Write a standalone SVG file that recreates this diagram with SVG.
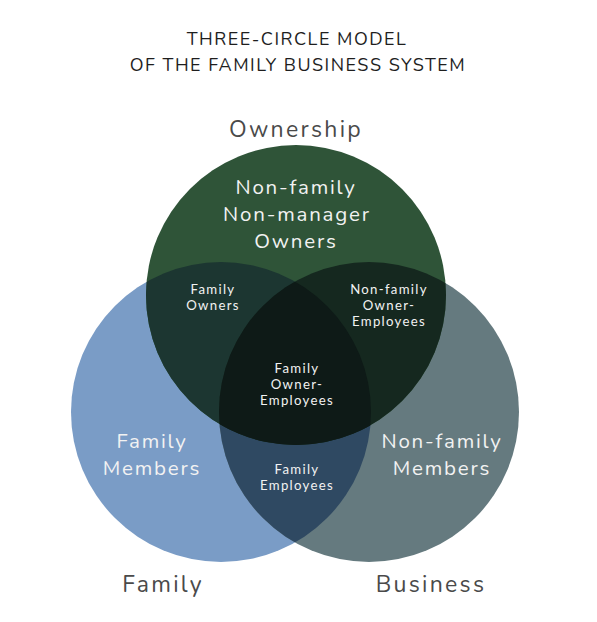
<svg xmlns="http://www.w3.org/2000/svg" width="597" height="622" viewBox="0 0 597 622">
<style>
text{font-family:"Nunito","Lato","Noto Sans",sans-serif;text-anchor:middle}
.title{font-size:18px;fill:#1e1e1e;letter-spacing:1.5px}
.cap{font-size:23px;fill:#4a4a4a;letter-spacing:2.3px}
.big{font-size:20.5px;fill:#f2f2f2;letter-spacing:1.8px}
.sm{font-family:"Lato","Noto Sans",sans-serif;font-size:13.2px;fill:#f2f2f2;letter-spacing:1.3px}
</style>
<defs>
<clipPath id="cF"><circle cx="221" cy="412" r="150"/></clipPath>
<clipPath id="cB"><circle cx="369" cy="412" r="150"/></clipPath>
</defs>
<rect width="597" height="622" fill="#ffffff"/>
<g id="title">
<text class="title" x="297" y="45">THREE-CIRCLE MODEL</text>
<text class="title" x="298" y="71">OF THE FAMILY BUSINESS SYSTEM</text>
</g>
<g id="family">
<circle cx="221" cy="412" r="150" fill="#7a9cc6"/>
</g>
<g id="business">
<circle cx="369" cy="412" r="150" fill="#657a7f"/>
</g>
<g id="ownership">
<circle cx="296" cy="295" r="150" fill="#2f5438"/>
</g>
<g id="overlaps">
<g clip-path="url(#cF)"><circle cx="369" cy="412" r="150" fill="#2f4962"/></g>
<g clip-path="url(#cF)"><circle cx="296" cy="295" r="150" fill="#1c3631"/></g>
<g clip-path="url(#cB)"><circle cx="296" cy="295" r="150" fill="#15281f"/></g>
<g clip-path="url(#cF)"><g clip-path="url(#cB)"><circle cx="296" cy="295" r="150" fill="#0e1a17"/></g></g>
</g>
<g id="labels">
<text class="cap" x="296" y="137">Ownership</text>
<text class="cap" x="163" y="592">Family</text>
<text class="cap" x="431" y="592">Business</text>
<text class="big"><tspan x="296" y="194">Non-family</tspan><tspan x="297" y="221">Non-manager</tspan><tspan x="296" y="248">Owners</tspan></text>
<text class="sm"><tspan x="213" y="294">Family</tspan><tspan x="213" y="310.2">Owners</tspan></text>
<text class="sm"><tspan x="389" y="294">Non-family</tspan><tspan x="389" y="310.2">Owner-</tspan><tspan x="389" y="326.4">Employees</tspan></text>
<text class="sm"><tspan x="297" y="373">Family</tspan><tspan x="297" y="389.2">Owner-</tspan><tspan x="297" y="405.4">Employees</tspan></text>
<text class="big"><tspan x="152" y="448">Family</tspan><tspan x="152" y="475">Members</tspan></text>
<text class="big"><tspan x="442" y="448">Non-family</tspan><tspan x="442" y="475">Members</tspan></text>
<text class="sm"><tspan x="297" y="474">Family</tspan><tspan x="297" y="490.2">Employees</tspan></text>
</g>
</svg>
